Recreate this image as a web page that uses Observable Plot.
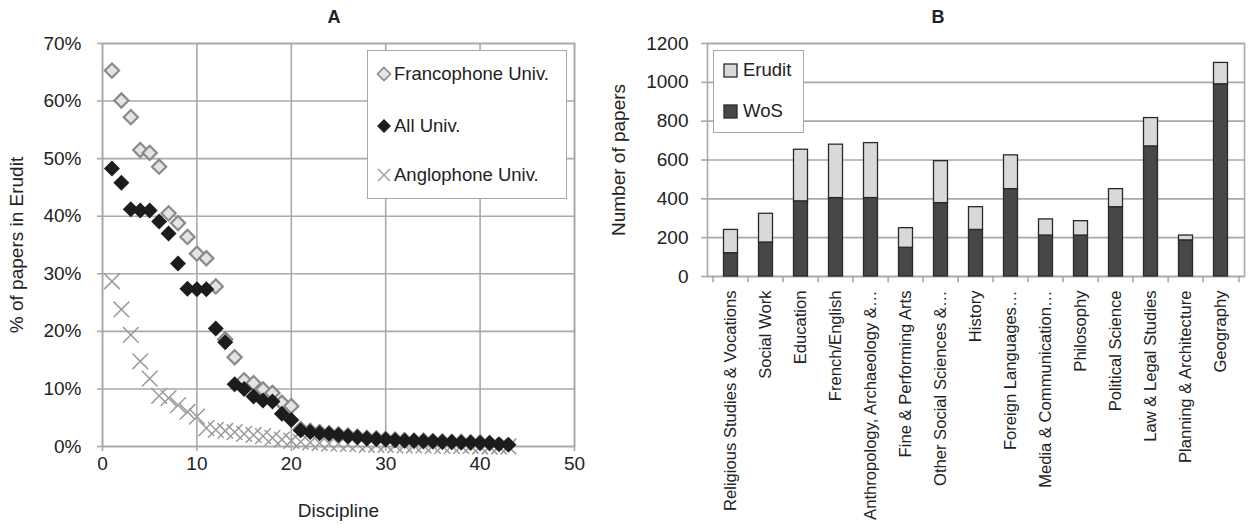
<!DOCTYPE html>
<html>
<head>
<meta charset="utf-8">
<script src="https://cdn.jsdelivr.net/npm/d3@7"></script>
<script src="https://cdn.jsdelivr.net/npm/@observablehq/plot@0.6"></script>
<style>
  html, body { margin: 0; padding: 0; background: #fff; }
  body { font-family: "Liberation Sans", Arial, sans-serif; color: #222; }
  #wrap { position: relative; width: 1248px; height: 525px; overflow: hidden; }
  .panel { position: absolute; top: 28px; }
  .title { position: absolute; top: 7px; font-weight: bold; font-size: 18px; transform: translateX(-50%); }
  .legend { position: absolute; background: #fff; border: 1.5px solid #a8a8a8; box-sizing: border-box; font-size: 18.5px; }
  .legend .row { position: absolute; display: flex; align-items: center; white-space: nowrap; }
  .legend svg { display: block; }
</style>
</head>
<body>
<div id="wrap">
  <div class="title" style="left:334px">A</div>
  <div class="title" style="left:938px">B</div>
  <div id="panelA" class="panel" style="left:0px"></div>
  <div id="panelB" class="panel" style="left:600px"></div>
  <div id="legendA" class="legend" style="left:367px; top:50px; width:200px; height:149px"></div>
  <div id="legendB" class="legend" style="left:713px; top:50px; width:91px; height:83px"></div>
</div>
<script>
// ---------- Panel A data ----------
const rank = [1,2,3,4,5,6,7,8,9,10,11,12,13,14,15,16,17,18,19,20,21,22,23,24,25,26,27,28,29,30,31,32,33,34,35,36,37,38,39,40,41,42,43];
const francophone = [65.3,60.1,57.2,51.5,51.0,48.6,40.5,38.8,36.4,33.5,32.7,27.8,18.6,15.5,11.5,11.0,9.9,9.3,7.6,7.0,3.0,2.7,2.5,2.3,2.1,1.9,1.7,1.5,1.4,1.3,1.2,1.1,1.0,1.0,0.9,0.9,0.8,0.8,0.7,0.7,0.6];
const allUniv = [48.3,45.8,41.2,41.0,41.0,39.1,37.0,31.8,27.4,27.3,27.3,20.5,18.1,10.8,10.0,8.7,8.0,7.8,5.7,4.6,2.8,2.5,2.3,2.2,2.0,1.8,1.6,1.4,1.3,1.2,1.1,1.0,1.0,0.9,0.9,0.8,0.8,0.7,0.7,0.6,0.6,0.4,0.3];
const anglophone = [28.7,23.8,19.4,14.8,11.8,8.8,8.4,7.2,6.0,5.2,3.2,2.9,2.7,2.5,2.2,2.0,1.8,1.5,1.2,1.0,0.8,0.7,0.6,0.5,0.5,0.4,0.4,0.3,0.3,0.3,0.2,0.2,0.2,0.2,0.1,0.1,0.1,0.1,0.1,0.0,0.0,0.0,0.0];
const xTicksA = [0,10,20,30,40,50];
const yTicksA = [0,10,20,30,40,50,60,70];

// ---------- Panel B data ----------
const disciplines = ["Religious Studies & Vocations","Social Work","Education","French/English","Anthropology, Archaeology &…","Fine & Performing Arts","Other Social Sciences &…","History","Foreign Languages…","Media & Communication…","Philosophy","Political Science","Law & Legal Studies","Planning & Architecture","Geography"];
const wos =    [120,175,387,404,404,148,378,240,450,211,211,357,670,186,990];
const erudit = [120,148,266,275,283,101,216,117,174,83,74,93,146,25,110];
const yTicksB = [0,200,400,600,800,1000,1200];
const seriesB = ["Erudit","WoS"];
const colorsB = ["#d9d9d9","#474747"];

const font = "'Liberation Sans', Arial, sans-serif";
const gridColor = "#a9a9a9";

const ptsA = (vals) => vals.map((v, i) => ({x: rank[i], y: v}));

const plotA = Plot.plot({
  width: 600, height: 497,
  marginLeft: 102, marginRight: 26, marginTop: 15, marginBottom: 79,
  style: {fontFamily: font, fontSize: "19px", color: "#222", background: "transparent"},
  x: {domain: [0, 50]},
  y: {domain: [0, 70]},
  marks: [
    Plot.gridX(xTicksA, {stroke: gridColor, strokeOpacity: 1, strokeWidth: 1.6}),
    Plot.gridY(yTicksA, {stroke: gridColor, strokeOpacity: 1, strokeWidth: 1.6}),
    Plot.frame({stroke: gridColor, strokeWidth: 1.6}),
    Plot.axisX(xTicksA, {tickSize: 5, tickPadding: 5, stroke: gridColor, strokeWidth: 1.6, label: "Discipline", labelAnchor: "center", labelArrow: "none", labelOffset: 70}),
    Plot.axisY(yTicksA, {tickSize: 5, tickPadding: 16, stroke: gridColor, strokeWidth: 1.6, tickFormat: d => d + "%", label: "% of papers in Erudit", labelAnchor: "center", labelArrow: "none", labelOffset: 93}),
    Plot.dot(ptsA(anglophone), {x: "x", y: "y", symbol: "times", r: 7.2, stroke: "#9a9a9a", strokeWidth: 1.5}),
    Plot.dot(ptsA(francophone), {x: "x", y: "y", symbol: "diamond2", r: 6.4, fill: "#e4e4e4", stroke: "#8a8a8a", strokeWidth: 2.2}),
    Plot.dot(ptsA(allUniv), {x: "x", y: "y", symbol: "diamond2", r: 7.2, fill: "#1c1c1c"})
  ]
});
document.getElementById("panelA").appendChild(plotA);

// ---------- Panel B ----------
const tableB = [];
disciplines.forEach((d, i) => {
  tableB.push({discipline: d, series: "WoS", value: wos[i]});
  tableB.push({discipline: d, series: "Erudit", value: erudit[i]});
});
const wB = 648, mlB = 107, mrB = 4;
const stepB = (wB - mlB - mrB) / disciplines.length;

const plotB = Plot.plot({
  width: wB, height: 497,
  marginLeft: mlB, marginRight: mrB, marginTop: 15, marginBottom: 249,
  style: {fontFamily: font, fontSize: "19px", color: "#222", background: "transparent"},
  x: {domain: disciplines, padding: 0},
  y: {domain: [0, 1200]},
  color: {domain: seriesB, range: colorsB},
  marks: [
    Plot.gridY(yTicksB, {stroke: gridColor, strokeOpacity: 1, strokeWidth: 1.6}),
    Plot.frame({stroke: gridColor, strokeWidth: 1.6}),
    Plot.ruleX(disciplines, {x: d => d, y1: 0, y2: -32, dx: -stepB / 2, stroke: gridColor, strokeWidth: 1.6}),
    Plot.ruleX(disciplines.slice(-1), {x: d => d, y1: 0, y2: -32, dx: stepB / 2, stroke: gridColor, strokeWidth: 1.6}),
    Plot.axisY(yTicksB, {tickSize: 6, tickPadding: 13, stroke: gridColor, strokeWidth: 1.6, tickFormat: d => String(d), label: "Number of papers", labelAnchor: "center", labelArrow: "none", labelOffset: 96}),
    Plot.axisX({tickSize: 0, tickPadding: 14, tickRotate: -90, fontSize: 16.6, label: null}),
    Plot.barY(tableB, Plot.stackY({x: "discipline", y: "value", fill: "series", order: ["WoS", "Erudit"], stroke: "#2a2a2a", strokeWidth: 1.3, insetLeft: 10.5, insetRight: 10.5}))
  ]
});
document.getElementById("panelB").appendChild(plotB);

// ---------- Legends ----------
const legA = document.getElementById("legendA");
const itemsA = [
  {label: "Francophone Univ.", svg: '<svg width="16" height="16"><path d="M8,1.5 L14.5,8 L8,14.5 L1.5,8 Z" fill="#e4e4e4" stroke="#8a8a8a" stroke-width="1.6"/></svg>', top: 12},
  {label: "All Univ.", svg: '<svg width="16" height="16"><path d="M8,1 L15,8 L8,15 L1,8 Z" fill="#1c1c1c"/></svg>', top: 64},
  {label: "Anglophone Univ.", svg: '<svg width="16" height="16"><path d="M2,2 L14,14 M14,2 L2,14" stroke="#9a9a9a" stroke-width="1.4"/></svg>', top: 113}
];
itemsA.forEach(it => {
  const r = document.createElement("div");
  r.className = "row";
  r.style.left = "8px"; r.style.top = it.top + "px";
  r.innerHTML = it.svg + '<span style="margin-left:2px">' + it.label + '</span>';
  legA.appendChild(r);
});
const legB = document.getElementById("legendB");
seriesB.forEach((s, i) => {
  const r = document.createElement("div");
  r.className = "row";
  r.style.left = "9px"; r.style.top = (8 + i * 41) + "px";
  r.innerHTML = '<svg width="15" height="15"><rect x="1" y="1" width="13" height="13" fill="' + colorsB[i] + '" stroke="#2a2a2a" stroke-width="1.3"/></svg><span style="margin-left:5px">' + s + '</span>';
  legB.appendChild(r);
});
</script>
</body>
</html>
